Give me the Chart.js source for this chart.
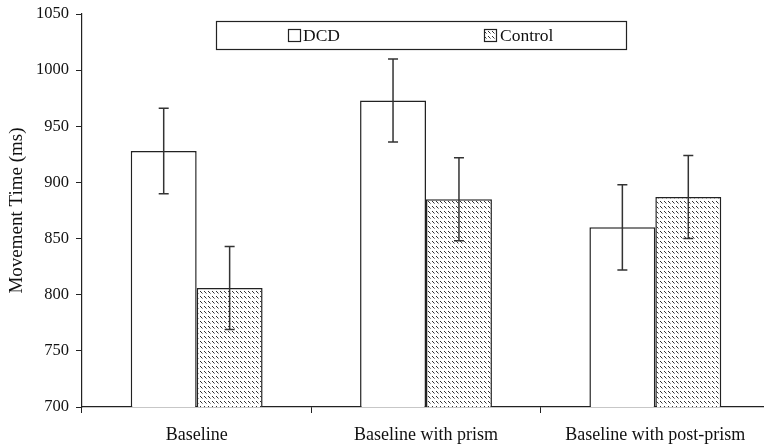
<!DOCTYPE html>
<html>
<head>
<meta charset="utf-8">
<script src="https://cdn.jsdelivr.net/npm/chart.js@4.4.0/dist/chart.umd.min.js"></script>
<style>
  html, body { margin: 0; padding: 0; background: #fff; overflow: hidden; }
  #wrap { width: 770px; height: 446px; }
</style>
</head>
<body>
<div id="wrap"><canvas id="chart"></canvas></div>
<script>
// данные
const categories = ['Baseline', 'Baseline with prism', 'Baseline with post-prism'];
const dcdValues = [928, 973, 860];
const dcdErrors = [38, 37, 38];
const controlValues = [806, 885, 887];
const controlErrors = [37, 37, 37];
const yTicks = [700, 750, 800, 850, 900, 950, 1000, 1050];

const FONT = 'Liberation Serif';

// штриховка для Control
function makeHatch() {
  const c = document.createElement('canvas');
  c.width = 4;
  c.height = 5;
  const g = c.getContext('2d');
  g.fillStyle = '#fff';
  g.fillRect(0, 0, 4, 5);
  g.strokeStyle = '#333';
  g.lineWidth = 1;
  g.beginPath();
  g.moveTo(0, 1);
  g.lineTo(2.5, 3.5);
  g.stroke();
  return g.createPattern(c, 'repeat');
}
const hatch = makeHatch();

// усы ошибок
const errorBars = {
  id: 'errorBars',
  afterDatasetsDraw(chart) {
    const ctx = chart.ctx;
    const y = chart.scales.y;
    const errs = [dcdErrors, controlErrors];
    ctx.save();
    ctx.strokeStyle = '#333';
    ctx.lineWidth = 1.5;
    chart.data.datasets.forEach((ds, i) => {
      chart.getDatasetMeta(i).data.forEach((bar, j) => {
        const v = ds.data[j];
        const top = y.getPixelForValue(v + errs[i][j]);
        const bot = y.getPixelForValue(v - errs[i][j]);
        ctx.beginPath();
        ctx.moveTo(bar.x, top);
        ctx.lineTo(bar.x, bot);
        ctx.moveTo(bar.x - 5, top);
        ctx.lineTo(bar.x + 5, top);
        ctx.moveTo(bar.x - 5, bot);
        ctx.lineTo(bar.x + 5, bot);
        ctx.stroke();
      });
    });
    ctx.restore();
  }
};

// легенда в рамке
const boxLegend = {
  id: 'boxLegend',
  afterDraw(chart) {
    const ctx = chart.ctx;
    ctx.save();
    ctx.fillStyle = '#fff';
    ctx.fillRect(216, 21, 411, 29);
    ctx.strokeStyle = '#222';
    ctx.lineWidth = 1.2;
    ctx.strokeRect(216.5, 21.5, 410, 28);
    ctx.font = '17.5px "' + FONT + '"';
    ctx.textBaseline = 'middle';
    // DCD
    ctx.fillStyle = '#fff';
    ctx.fillRect(288, 29, 13, 13);
    ctx.strokeRect(288.5, 29.5, 12, 12);
    ctx.fillStyle = '#111';
    ctx.fillText('DCD', 303, 36.5);
    // Control
    ctx.fillStyle = hatch;
    ctx.fillRect(484, 29, 13, 13);
    ctx.strokeRect(484.5, 29.5, 12, 12);
    ctx.fillStyle = '#111';
    ctx.fillText('Control', 500, 36.5);
    ctx.restore();
  }
};

new Chart(document.getElementById('chart'), {
  type: 'bar',
  data: {
    labels: categories,
    datasets: [
      { label: 'DCD', data: dcdValues, backgroundColor: '#fff', borderColor: '#222', borderWidth: 1.5, borderSkipped: 'bottom' },
      { label: 'Control', data: controlValues, backgroundColor: hatch, borderColor: '#222', borderWidth: 1.5, borderSkipped: 'bottom' }
    ]
  },
  options: {
    responsive: true,
    maintainAspectRatio: false,
    animation: false,
    layout: { padding: { top: 14, right: 0, bottom: 0, left: 0 } },
    categoryPercentage: 0.575,
    barPercentage: 1.0,
    plugins: {
      legend: { display: false },
      tooltip: { enabled: false }
    },
    scales: {
      x: {
        grid: { offset: true, drawOnChartArea: false, drawTicks: true, tickLength: 6, color: '#222', lineWidth: 1 },
        border: { color: '#222', width: 1.2 },
        ticks: { color: '#111', font: { family: FONT, size: 18 }, padding: 11, maxRotation: 0 },
        afterFit(scale) { scale.height = 39; }
      },
      y: {
        min: 700,
        max: 1050,
        afterBuildTicks(scale) { scale.ticks = yTicks.map(v => ({ value: v })); },
        grid: { drawOnChartArea: false, drawTicks: true, tickLength: 6, color: '#222' },
        border: { color: '#222', width: 1.2 },
        ticks: { color: '#111', font: { family: FONT, size: 16.5 }, padding: 7, callback: v => String(v) },
        title: { display: true, text: 'Movement Time (ms)', color: '#111', font: { family: FONT, size: 19 }, padding: { top: 6, bottom: 0 } },
        afterFit(scale) { scale.width = 82; scale.paddingTop = 0; scale.paddingBottom = 0; }
      }
    }
  },
  plugins: [errorBars, boxLegend]
});
</script>
</body>
</html>
